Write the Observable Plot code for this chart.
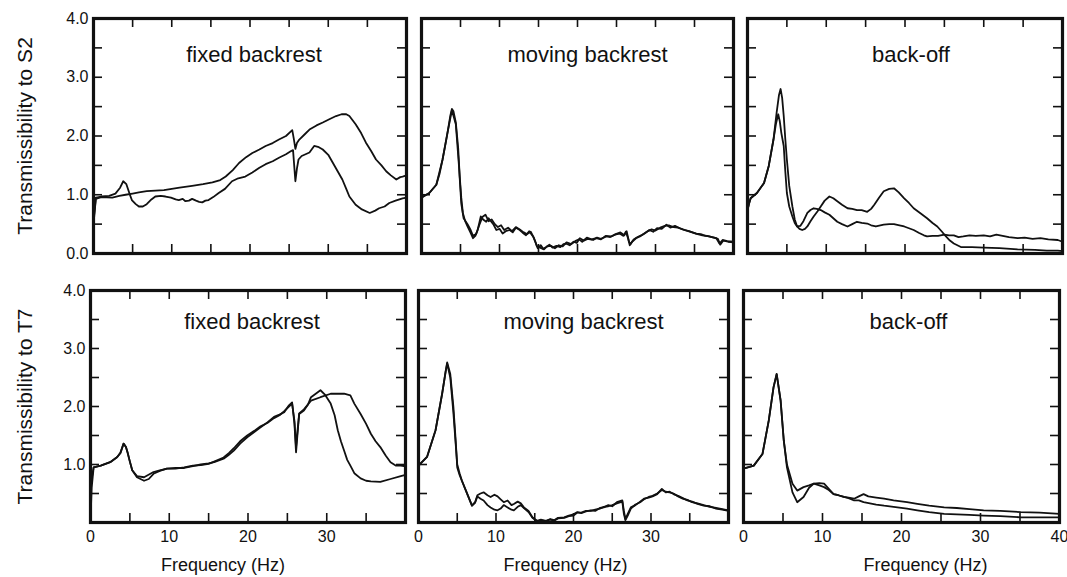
<!DOCTYPE html>
<html><head><meta charset="utf-8">
<script src="https://cdn.jsdelivr.net/npm/d3@7"></script>
<script src="https://cdn.jsdelivr.net/npm/@observablehq/plot@0.6"></script>
<style>
body{margin:0;background:#fff;}
#chart{position:relative;width:1067px;height:577px;overflow:hidden;background:#fff;}
</style></head><body><div id="chart"></div>
<script>
// ---------- labels / ticks ----------
const titles = ["fixed backrest", "moving backrest", "back-off"];
const rowLabels = ["Transmissibility to S2", "Transmissibility to T7"];
const xLabel = "Frequency (Hz)";
const xMinorTicks = [5, 10, 15, 20, 25, 30, 35];
const yMinorTicks = [0.5, 1, 1.5, 2, 2.5, 3, 3.5];
const xTickLabels = [0, 10, 20, 30];
const xTickLabelsLast = [0, 10, 20, 30, 40];
const yTickLabelsTop = [0, 1, 2, 3, 4];
const yTickLabelsBottom = [1, 2, 3, 4];

// ---------- data: [frequency Hz, transmissibility] ----------
const fixedS2A = [[0,0.55],[0.3,0.95],[1,0.97],[2,0.98],[2.8,1.02],[3.4,1.12],[3.8,1.23],[4.2,1.18],[4.6,1.02],[4.9,0.91],[5.4,0.84],[5.8,0.8],[6.3,0.8],[6.8,0.84],[7.4,0.92],[7.9,0.97],[8.6,0.98],[9.2,0.97],[9.9,0.95],[10.5,0.92],[10.9,0.91],[11.4,0.93],[11.75,0.89],[12.2,0.9],[12.6,0.93],[13.1,0.9],[13.5,0.88],[13.9,0.87],[14.3,0.9],[14.7,0.91],[15.3,0.96],[16,1.03],[16.8,1.1],[17.7,1.23],[18.5,1.28],[19.4,1.31],[20.3,1.38],[21.2,1.46],[22,1.52],[22.9,1.57],[23.7,1.63],[24.6,1.69],[25.2,1.74],[25.5,1.76],[25.8,1.23],[26,1.45],[26.2,1.6],[26.6,1.66],[27.1,1.69],[27.6,1.72],[28.2,1.83],[28.8,1.81],[29.3,1.77],[30,1.68],[30.6,1.54],[31.2,1.4],[31.8,1.26],[32.3,1.1],[32.7,0.97],[33.5,0.83],[34.3,0.75],[35.3,0.69],[36,0.73],[36.5,0.77],[37.2,0.8],[37.8,0.86],[38.6,0.9],[39.5,0.94],[40,0.95]];
const fixedS2B = [[0,0.5],[0.3,0.93],[1,0.96],[2.4,0.95],[3.3,0.98],[4.1,1.0],[5,1.02],[5.8,1.04],[6.8,1.06],[7.9,1.07],[9,1.08],[10,1.1],[11,1.12],[12.6,1.15],[14,1.18],[15.2,1.21],[16.2,1.25],[16.9,1.31],[17.8,1.42],[18.6,1.54],[19.5,1.64],[20.3,1.71],[21.2,1.77],[22,1.83],[22.9,1.88],[23.7,1.94],[24.6,2.0],[25.4,2.1],[25.6,1.95],[25.8,1.78],[26,1.88],[26.3,1.94],[27,2.03],[27.6,2.11],[28.5,2.18],[29.3,2.23],[30.2,2.29],[31,2.34],[31.7,2.37],[32.3,2.37],[32.7,2.34],[33.5,2.2],[34.2,2.05],[34.8,1.89],[35.5,1.74],[36.1,1.6],[36.8,1.5],[37.4,1.4],[38,1.33],[38.7,1.26],[39.2,1.3],[39.5,1.31],[40,1.33]];

const movingS2A = [[0,0.95],[0.2,0.97],[1,1.03],[1.9,1.17],[2.3,1.35],[2.7,1.6],[3.05,1.85],[3.4,2.11],[3.7,2.35],[3.9,2.46],[4.1,2.42],[4.4,2.23],[4.7,1.8],[4.9,1.31],[5.1,0.95],[5.3,0.69],[5.6,0.55],[5.9,0.46],[6.3,0.35],[6.6,0.26],[6.9,0.3],[7.2,0.4],[7.6,0.63],[7.9,0.58],[8.3,0.54],[8.6,0.6],[8.9,0.55],[9.2,0.5],[9.6,0.4],[10,0.42],[10.4,0.34],[10.8,0.38],[11.3,0.4],[11.7,0.36],[12.1,0.44],[12.6,0.4],[13,0.35],[13.4,0.31],[13.8,0.38],[14.3,0.29],[14.6,0.2],[14.9,0.09],[15.3,0.14],[15.6,0.08],[16,0.11],[16.4,0.15],[16.8,0.1],[17.3,0.13],[17.8,0.11],[18.2,0.16],[18.5,0.17],[19,0.14],[19.5,0.2],[19.9,0.18],[20.3,0.26],[20.8,0.22],[21.3,0.25],[22,0.23],[22.5,0.27],[23,0.25],[23.7,0.29],[24.2,0.28],[24.8,0.32],[25.4,0.34],[25.9,0.3],[26.2,0.37],[26.5,0.25],[26.7,0.14],[27,0.2],[27.5,0.26],[28,0.29],[28.6,0.34],[29.2,0.4],[29.7,0.37],[30.2,0.43],[30.8,0.42],[31.4,0.49],[31.9,0.44],[32.5,0.47],[33.1,0.43],[33.7,0.4],[34.3,0.38],[35.2,0.34],[35.8,0.33],[36.4,0.3],[36.9,0.29],[37.5,0.27],[38,0.25],[38.3,0.15],[38.7,0.22],[39.3,0.2],[40,0.19]];
const movingS2B = [[0,0.95],[1,1.03],[1.9,1.17],[2.7,1.6],[3.4,2.1],[3.9,2.44],[4.4,2.2],[4.8,1.5],[5.1,0.85],[5.4,0.6],[5.9,0.5],[6.3,0.4],[6.6,0.3],[7,0.33],[7.4,0.48],[7.8,0.62],[8.2,0.66],[8.6,0.55],[9,0.58],[9.4,0.5],[9.8,0.45],[10.2,0.48],[10.6,0.4],[11.1,0.44],[11.6,0.38],[12.1,0.45],[12.6,0.41],[13.1,0.36],[13.5,0.33],[14,0.37],[14.4,0.27],[14.8,0.12],[15.2,0.1],[15.7,0.07],[16.1,0.12],[16.6,0.13],[17.1,0.09],[17.6,0.14],[18.1,0.12],[18.6,0.19],[19.2,0.16],[19.7,0.21],[20.2,0.24],[20.6,0.2],[21.2,0.27],[21.8,0.24],[22.4,0.26],[23,0.24],[23.6,0.3],[24.3,0.29],[24.9,0.33],[25.5,0.36],[26,0.31],[26.3,0.38],[26.6,0.2],[26.8,0.16],[27.2,0.24],[27.7,0.28],[28.3,0.32],[28.9,0.37],[29.5,0.41],[30,0.39],[30.6,0.44],[31.2,0.47],[31.7,0.48],[32.3,0.45],[32.9,0.44],[33.5,0.41],[34,0.39],[34.7,0.36],[35.4,0.33],[36,0.31],[36.6,0.3],[37.2,0.28],[37.8,0.26],[38.2,0.17],[38.6,0.23],[39.2,0.21],[40,0.2]];

const backS2A = [[0,0.74],[0.2,0.85],[0.4,0.94],[1.2,1.03],[2.1,1.2],[2.7,1.49],[3.3,1.94],[3.7,2.4],[4,2.7],[4.2,2.8],[4.4,2.65],[4.6,2.34],[4.8,1.95],[5,1.6],[5.3,1.15],[5.7,0.8],[6,0.58],[6.3,0.46],[6.6,0.42],[6.95,0.4],[7.3,0.42],[7.6,0.46],[8,0.55],[8.4,0.63],[8.9,0.72],[9.3,0.8],[9.8,0.9],[10.4,0.97],[10.9,0.94],[11.4,0.89],[12,0.83],[12.7,0.77],[13.3,0.76],[13.9,0.74],[14.5,0.74],[15.2,0.71],[15.7,0.76],[16.1,0.83],[16.7,0.95],[17.3,1.06],[18,1.1],[18.6,1.11],[19.2,1.04],[19.9,0.94],[20.5,0.86],[21.1,0.77],[22,0.68],[22.8,0.6],[23.5,0.52],[24.1,0.46],[24.7,0.37],[25.2,0.29],[25.7,0.22],[26.2,0.17],[27.1,0.11],[28.5,0.11],[30,0.1],[32,0.09],[34.3,0.07],[36.5,0.06],[38,0.05],[39.4,0.05],[40,0.04]];
const backS2B = [[0,0.74],[0.2,0.85],[0.4,0.94],[1.2,1.03],[2.1,1.2],[2.7,1.49],[3.3,1.94],[3.6,2.2],[3.9,2.37],[4.1,2.25],[4.3,2.05],[4.6,1.83],[4.8,1.4],[5,1.03],[5.3,0.8],[5.7,0.63],[6,0.52],[6.3,0.46],[6.7,0.47],[7.1,0.55],[7.6,0.69],[8,0.74],[8.4,0.77],[8.8,0.76],[9.3,0.74],[9.8,0.7],[10.4,0.66],[10.9,0.6],[11.4,0.54],[12,0.5],[12.7,0.46],[13.3,0.5],[13.9,0.54],[14.5,0.52],[15.2,0.51],[15.7,0.48],[16.3,0.46],[17.3,0.49],[18,0.5],[18.6,0.5],[19.3,0.48],[19.9,0.46],[20.5,0.43],[21.1,0.4],[21.8,0.35],[22.4,0.31],[22.8,0.29],[23.5,0.3],[24.2,0.3],[25,0.32],[25.6,0.31],[26.2,0.31],[26.8,0.28],[27.4,0.29],[28.2,0.31],[29,0.3],[30,0.31],[30.8,0.29],[31.6,0.32],[32.4,0.3],[33.2,0.28],[34.3,0.26],[35.2,0.27],[36.2,0.25],[37.2,0.26],[38.2,0.24],[39.4,0.23],[40,0.2]];

const fixedT7A = [[0,0.05],[0.15,0.6],[0.4,0.95],[1.3,0.98],[2.5,1.04],[3.4,1.13],[3.8,1.2],[4.2,1.36],[4.5,1.3],[4.7,1.21],[5,1.05],[5.3,0.9],[5.9,0.78],[6.8,0.72],[7.4,0.75],[8,0.84],[8.8,0.89],[9.7,0.93],[10.8,0.94],[11.9,0.94],[13,0.97],[14,1.0],[15,1.02],[15.7,1.04],[16.9,1.1],[17.5,1.16],[18.2,1.24],[19,1.36],[19.9,1.47],[20.8,1.56],[21.6,1.64],[22.5,1.73],[23.3,1.82],[24,1.86],[24.6,1.9],[25.2,2.02],[25.6,2.07],[25.9,1.7],[26.1,1.21],[26.3,1.55],[26.5,1.87],[27.1,1.93],[27.6,2.03],[28,2.16],[28.6,2.22],[29.2,2.28],[29.8,2.2],[30.5,2.05],[31,1.85],[31.4,1.59],[31.8,1.4],[32.2,1.24],[32.6,1.08],[33,0.98],[33.5,0.85],[34.3,0.76],[35,0.72],[35.6,0.71],[36.8,0.7],[38.1,0.75],[39.4,0.8],[40,0.82]];
const fixedT7B = [[0,0.6],[0.2,0.8],[0.4,0.95],[1.3,0.98],[2.5,1.04],[3.4,1.13],[3.8,1.2],[4.2,1.36],[4.5,1.3],[4.7,1.21],[5,1.05],[5.3,0.9],[5.9,0.8],[6.8,0.78],[8,0.87],[8.8,0.9],[9.7,0.93],[10.8,0.93],[11.9,0.95],[13,0.98],[14,0.99],[15,1.01],[15.7,1.05],[16.9,1.12],[17.6,1.2],[18.2,1.28],[19,1.4],[19.9,1.5],[20.8,1.58],[21.6,1.66],[22.5,1.72],[23.3,1.8],[24,1.85],[24.6,1.92],[25.2,2.0],[25.6,2.05],[25.9,1.75],[26.1,1.3],[26.3,1.6],[26.5,1.88],[27.1,1.95],[28,2.1],[29.2,2.16],[30.5,2.22],[31.4,2.22],[32.2,2.22],[33,2.19],[33.5,2.05],[34.3,1.87],[35,1.7],[35.6,1.53],[36.2,1.4],[36.8,1.3],[37.5,1.15],[38.1,1.04],[38.8,0.98],[39.4,0.98],[40,0.97]];

const movingT7A = [[0,0.98],[1.1,1.13],[2.2,1.59],[3.05,2.22],[3.5,2.6],[3.7,2.76],[4.1,2.56],[4.5,2.0],[4.8,1.41],[5,0.95],[5.3,0.82],[5.6,0.72],[6.3,0.49],[6.9,0.29],[7.3,0.35],[7.6,0.47],[8,0.5],[8.4,0.52],[8.9,0.47],[9.3,0.44],[9.8,0.48],[10.2,0.45],[10.6,0.4],[11,0.35],[11.5,0.38],[12,0.3],[12.3,0.32],[12.8,0.36],[13.2,0.33],[13.6,0.26],[14.2,0.2],[14.7,0.09],[15.3,0.03],[15.8,0.05],[16.4,0.02],[17,0.06],[17.5,0.04],[18,0.08],[18.8,0.09],[19.4,0.12],[20,0.14],[20.5,0.18],[21,0.16],[21.6,0.19],[22.2,0.21],[22.8,0.2],[23.4,0.25],[23.9,0.26],[24.5,0.3],[25,0.28],[25.6,0.35],[26.3,0.38],[26.5,0.2],[26.7,0.06],[27,0.15],[27.4,0.26],[28,0.3],[28.6,0.36],[29.1,0.41],[29.7,0.43],[30.2,0.45],[30.8,0.49],[31.4,0.58],[31.9,0.52],[32.4,0.53],[32.9,0.49],[33.5,0.46],[34.1,0.42],[34.7,0.38],[35.3,0.36],[36,0.32],[36.8,0.29],[37.6,0.28],[38.4,0.24],[39.2,0.22],[40,0.2]];
const movingT7B = [[0,0.98],[1.1,1.13],[2.2,1.59],[3.05,2.22],[3.5,2.6],[3.7,2.74],[4.1,2.5],[4.5,1.9],[4.8,1.35],[5,1.0],[5.3,0.85],[5.6,0.72],[6.3,0.49],[6.9,0.29],[7.3,0.34],[7.6,0.45],[8,0.41],[8.4,0.38],[8.9,0.3],[9.3,0.26],[9.8,0.22],[10.2,0.21],[10.6,0.24],[11,0.3],[11.5,0.26],[12,0.22],[12.3,0.21],[12.8,0.27],[13.2,0.3],[13.6,0.25],[14.2,0.18],[14.7,0.08],[15.3,0.02],[15.8,0.04],[16.4,0.03],[17,0.05],[17.5,0.03],[18,0.07],[18.8,0.08],[19.4,0.11],[20,0.12],[20.5,0.17],[21,0.17],[21.6,0.2],[22.2,0.2],[22.8,0.22],[23.4,0.24],[23.9,0.27],[24.5,0.28],[25,0.3],[25.6,0.33],[26.3,0.36],[26.5,0.15],[26.7,0.04],[27,0.12],[27.4,0.24],[28,0.31],[28.6,0.35],[29.1,0.4],[29.7,0.44],[30.2,0.46],[30.8,0.5],[31.4,0.56],[31.9,0.53],[32.4,0.52],[32.9,0.5],[33.5,0.45],[34.1,0.41],[34.7,0.39],[35.3,0.35],[36,0.33],[36.8,0.3],[37.6,0.27],[38.4,0.25],[39.2,0.23],[40,0.21]];

const backT7A = [[0,0.93],[1.3,0.98],[2.4,1.18],[3.2,1.76],[3.8,2.33],[4.2,2.56],[4.7,2.1],[5.1,1.41],[5.5,0.95],[6.2,0.52],[6.8,0.35],[7.6,0.44],[8.3,0.6],[8.9,0.67],[9.6,0.68],[10.2,0.67],[10.8,0.58],[11.4,0.49],[12,0.47],[12.7,0.44],[13.3,0.42],[14,0.38],[14.6,0.38],[15.2,0.35],[16,0.33],[16.8,0.31],[17.8,0.29],[19,0.27],[20.7,0.24],[22,0.21],[23.5,0.18],[25.4,0.15],[27,0.14],[28.6,0.13],[30.4,0.12],[32.5,0.11],[35.1,0.09],[37.5,0.09],[40,0.09]];
const backT7B = [[0,0.93],[1.3,0.98],[2.4,1.18],[3.2,1.76],[3.8,2.33],[4.2,2.56],[4.7,2.1],[5.1,1.41],[5.5,1.0],[6.2,0.67],[6.8,0.55],[7.6,0.61],[8.3,0.64],[8.9,0.67],[9.6,0.64],[10.2,0.61],[10.8,0.56],[11.4,0.49],[12,0.47],[12.7,0.44],[13.3,0.43],[14,0.41],[14.6,0.45],[15.2,0.49],[15.8,0.45],[16.8,0.43],[17.8,0.41],[19,0.38],[20.7,0.35],[22,0.32],[23.5,0.29],[25.4,0.26],[27,0.25],[28.6,0.23],[30.4,0.21],[32.5,0.2],[35.1,0.18],[37.5,0.17],[40,0.15]];

const panelSeries = [
  [[fixedS2A, fixedS2B], [movingS2A, movingS2B], [backS2A, backS2B]],
  [[fixedT7A, fixedT7B], [movingT7A, movingT7B], [backT7A, backT7B]]
];

// ---------- layout ----------
const FONT = "'Liberation Sans', Arial, Helvetica, sans-serif";
const rowsY = [[18, 253], [290, 522]];
const colsX = [[[93, 406], [421, 733], [747, 1062]], [[90, 405], [418, 728], [743, 1059]]];
const titleDx = [[4, 10, 6], [4, 10, 7]];
const titleDy = [36, 31];
const freqDx = [-25, -8, 24];
const root = document.getElementById("chart");

for (let r = 0; r < 2; r++) {
  for (let c = 0; c < 3; c++) {
    const [fl, fr] = colsX[r][c];
    const [ft, fb] = rowsY[r];
    const mL = c === 0 ? fl : 12, mR = 12, mT = 12;
    const mB = r === 1 ? 577 - fb : 12;
    const iw = fr - fl, ih = fb - ft;
    const marks = [];
    panelSeries[r][c].forEach(s => marks.push(Plot.line(s, {x: d => d[0], y: d => d[1], stroke: "#111", strokeWidth: 1.8})));
    marks.push(
      Plot.tickX(xMinorTicks, {x: d => d, insetBottom: ih - 9, stroke: "#111", strokeWidth: 1.6}),
      Plot.tickX(xMinorTicks, {x: d => d, insetTop: ih - 9, stroke: "#111", strokeWidth: 1.6}),
      Plot.tickY(yMinorTicks, {y: d => d, insetRight: iw - 9, stroke: "#111", strokeWidth: 1.6}),
      Plot.tickY(yMinorTicks, {y: d => d, insetLeft: iw - 9, stroke: "#111", strokeWidth: 1.6}),
      Plot.frame({stroke: "#111", strokeWidth: 3.2}),
      Plot.text([titles[c]], {frameAnchor: "top", dy: titleDy[r], dx: titleDx[r][c], fontSize: 22, fill: "#111", lineAnchor: "middle"})
    );
    if (c === 0) {
      marks.push(
        Plot.axisY(r === 0 ? yTickLabelsTop : yTickLabelsBottom, {tickSize: 0, tickPadding: 5, tickFormat: d3.format(".1f"), fontSize: 16, fill: "#111"}),
        Plot.text([rowLabels[r]], {frameAnchor: "left", dx: 25 - fl, rotate: -90, textAnchor: "middle", fontSize: 21, fill: "#111", lineAnchor: "middle"})
      );
    }
    if (r === 1) {
      marks.push(
        Plot.axisX(c === 2 ? xTickLabelsLast : xTickLabels, {tickSize: 0, tickPadding: 8, fontSize: 16, fill: "#111"}),
        Plot.text([xLabel], {frameAnchor: "bottom", dy: 43, dx: freqDx[c], fontSize: 18, fill: "#111", lineAnchor: "middle"})
      );
    }
    const svg = Plot.plot({
      width: iw + mL + mR, height: ih + mT + mB,
      marginLeft: mL, marginRight: mR, marginTop: mT, marginBottom: mB,
      x: {domain: [0, 40], axis: null},
      y: {domain: [0, 4], axis: null},
      style: {fontFamily: FONT, background: "transparent", overflow: "visible"},
      marks
    });
    svg.style.position = "absolute";
    svg.style.left = (fl - mL) + "px";
    svg.style.top = (ft - mT) + "px";
    svg.style.maxWidth = "none";
    root.append(svg);
  }
}
</script></body></html>
